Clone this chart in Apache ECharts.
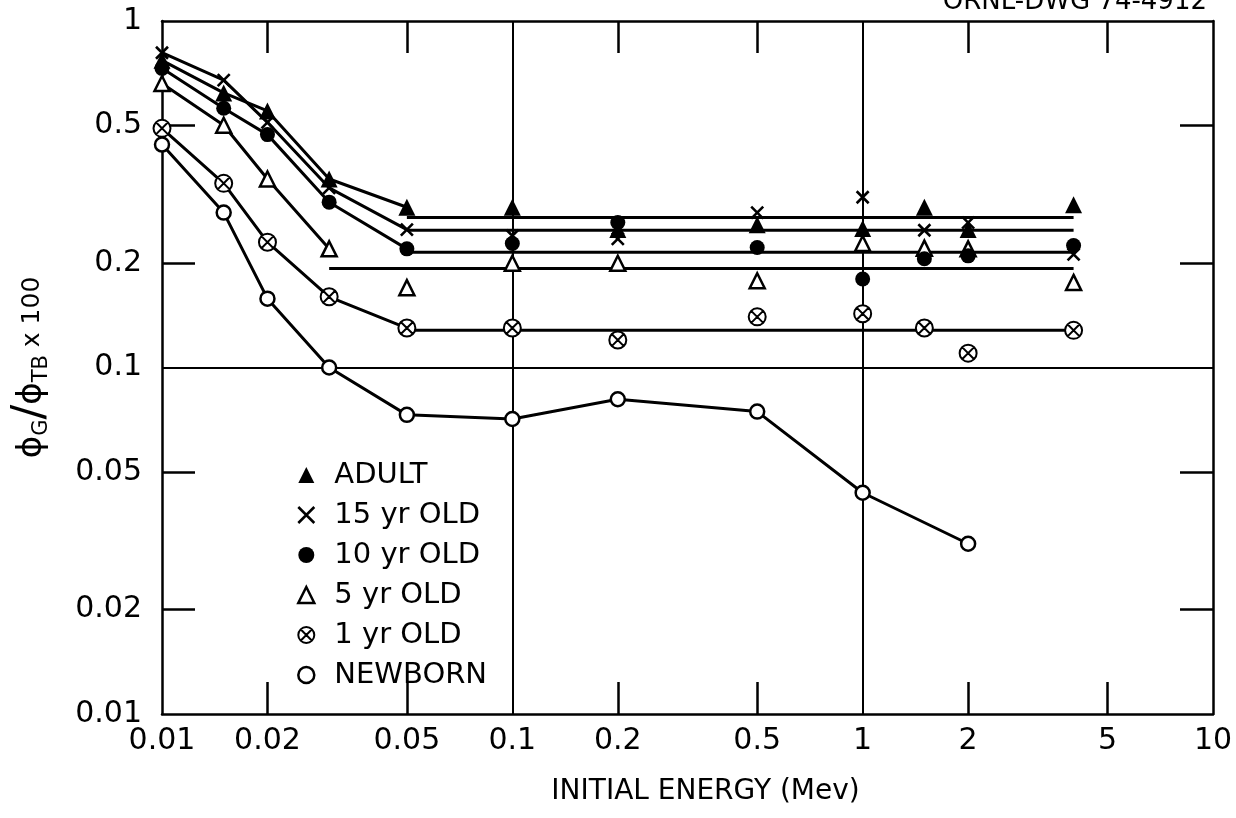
<!DOCTYPE html>
<html>
<head>
<meta charset="utf-8">
<script src="https://cdn.jsdelivr.net/npm/echarts@6/dist/echarts.min.js"></script>
<style>html,body{margin:0;padding:0;background:#fff}#c{width:1236px;height:818px}</style>
</head>
<body>
<div id="c"></div>
<script>
// ---- data (initial energy in MeV, ratio) ----
const energies = [0.01, 0.015, 0.02, 0.03, 0.05, 0.1, 0.2, 0.5, 1, 1.5, 2, 4];
const adult   = [0.77, 0.62, 0.55, 0.35, 0.29, 0.29, 0.25, 0.258, 0.252, 0.29, 0.25, 0.295];
const yr15    = [0.81, 0.675, 0.51, 0.33, 0.25, 0.24, 0.235, 0.28, 0.31, 0.249, 0.262, 0.212];
const yr10    = [0.73, 0.56, 0.47, 0.30, 0.22, 0.228, 0.262, 0.222, 0.18, 0.206, 0.21, 0.225];
const yr5     = [0.66, 0.50, 0.35, 0.22, 0.17, 0.20, 0.20, 0.178, 0.228, 0.221, 0.22, 0.176];
const yr1     = [0.49, 0.34, 0.23, 0.16, 0.13, 0.13, 0.12, 0.14, 0.143, 0.13, 0.11, 0.128];
const newborn = [0.44, 0.28, 0.158, 0.10, 0.073, 0.071, 0.081, 0.0746, 0.0435, null, 0.031, null];
// horizontal fitted levels (ADULT, 15 yr, 10 yr, 5 yr, 1 yr)
const fitLevel = [0.271, 0.249, 0.215, 0.193, 0.128];
const fitFrom  = [0.05, 0.05, 0.05, 0.03, 0.05];
const fitTo    = [4, 4, 4, 4, 4];
// last index joined by the low-energy curve
const curveLast = [4, 4, 4, 3, 4, 11];
const seriesNames = ['ADULT', '15 yr OLD', '10 yr OLD', '5 yr OLD', '1 yr OLD', 'NEWBORN'];
const xTickValues  = [0.02, 0.05, 0.2, 0.5, 2, 5];
const xLabelValues = [0.01, 0.02, 0.05, 0.1, 0.2, 0.5, 1, 2, 5, 10];
const yTickValues  = [0.02, 0.05, 0.2, 0.5];
const yLabelValues = [0.01, 0.02, 0.05, 0.1, 0.2, 0.5, 1];
const xGridValues = [0.1, 1];
const yGridValues = [0.1];
const xTitle = 'INITIAL ENERGY (Mev)';
const drawingNo = 'ORNL-DWG 74-4912';

// ---- styles ----
const FONT = 'DejaVu Sans';
const INK = '#000';
const CROSS = 'path://M0,0L10,10M10,0L0,10';
const CIRCX = 'path://M10,0A10,10,0,1,1,10,20A10,10,0,1,1,10,0ZM3.2,3.2L16.8,16.8M16.8,3.2L3.2,16.8';
const markers = [
  {symbol: 'triangle', size: 17, itemStyle: {color: INK, borderWidth: 0, opacity: 1}},
  {symbol: CROSS, size: 12, itemStyle: {color: INK, borderColor: INK, borderWidth: 2.6, opacity: 1}},
  {symbol: 'circle', size: 15, itemStyle: {color: INK, borderWidth: 0, opacity: 1}},
  {symbol: 'triangle', size: 15, itemStyle: {color: '#fff', borderColor: INK, borderWidth: 2.5, opacity: 1}},
  {symbol: CIRCX, size: 17, itemStyle: {color: '#fff', borderColor: INK, borderWidth: 2, opacity: 1}},
  {symbol: 'circle', size: 14, itemStyle: {color: '#fff', borderColor: INK, borderWidth: 2.5, opacity: 1}}
];
const allValues = [adult, yr15, yr10, yr5, yr1, newborn];

function pts(vals, lastIdx) {
  const out = [];
  for (let i = 0; i < energies.length && i <= lastIdx; i++) {
    if (vals[i] != null) out.push([energies[i], vals[i]]);
  }
  return out;
}
const fmt = v => String(+Number(v).toPrecision(2));

const series = [];
// curves
allValues.forEach((vals, k) => {
  series.push({
    type: 'line', name: seriesNames[k], data: pts(vals, curveLast[k]),
    symbol: 'none', showSymbol: false, silent: true, z: 2,
    lineStyle: {color: INK, width: 3}
  });
});
// fitted horizontal lines
fitLevel.forEach((lv, k) => {
  series.push({
    type: 'line', name: seriesNames[k],
    data: [[fitFrom[k], lv], [fitTo[k], lv]],
    symbol: 'none', showSymbol: false, silent: true, z: 2,
    lineStyle: {color: INK, width: 3}
  });
});
// markers (drawn last so ADULT is on top)
for (let k = allValues.length - 1; k >= 0; k--) {
  series.push({
    type: 'scatter', name: seriesNames[k], data: pts(allValues[k], 99),
    symbol: markers[k].symbol, symbolSize: markers[k].size,
    itemStyle: markers[k].itemStyle, z: 3, silent: true
  });
}

const legendData = seriesNames.map((n, k) => ({
  name: n,
  icon: markers[k].symbol,
  itemStyle: Object.assign({}, markers[k].itemStyle)
}));

const lineSt = {color: INK, width: 2.5};
const labelSt = {color: INK, fontSize: 30, fontFamily: FONT};

const option = {
  backgroundColor: '#fff',
  animation: false,
  title: {
    text: drawingNo, right: 24, top: -16,
    textStyle: {fontSize: 26, fontWeight: 'normal', fontFamily: FONT, color: INK}
  },
  grid: {left: 162, right: 23, top: 21, bottom: 104},
  legend: {
    orient: 'vertical', left: 292, top: 455,
    itemWidth: 16, itemHeight: 16, itemGap: 10,
    data: legendData,
    textStyle: {fontSize: 29, fontFamily: FONT, color: INK, lineHeight: 30, padding: [0, 0, 0, 15]},
    selectedMode: false
  },
  xAxis: [
    {
      type: 'log', logBase: 10, min: 0.01, max: 10, position: 'bottom',
      axisLine: {show: true, onZero: false, lineStyle: lineSt},
      axisTick: {show: true, inside: true, length: 32, customValues: xTickValues, lineStyle: lineSt},
      axisLabel: Object.assign({show: true, customValues: xLabelValues, margin: 12, formatter: fmt}, labelSt),
      splitLine: {show: false},
      name: xTitle, nameLocation: 'middle', nameGap: 64,
      nameTextStyle: {fontSize: 28, fontFamily: FONT, color: INK, lineHeight: 28, padding: [0, 0, 0, 36]}
    },
    {
      type: 'log', logBase: 10, min: 0.01, max: 10, position: 'top',
      axisLine: {show: true, onZero: false, lineStyle: lineSt},
      axisTick: {show: true, inside: true, length: 32, customValues: xTickValues, lineStyle: lineSt},
      axisLabel: {show: false},
      splitLine: {show: false}
    },
    {
      type: 'log', logBase: 10, min: 0.01, max: 10, position: 'bottom',
      axisLine: {show: false},
      axisTick: {show: false, customValues: xGridValues},
      axisLabel: {show: false},
      splitLine: {show: true, lineStyle: {color: INK, width: 2}}
    }
  ],
  yAxis: [
    {
      type: 'log', logBase: 10, min: 0.01, max: 1, position: 'left',
      axisLine: {show: true, onZero: false, lineStyle: lineSt},
      axisTick: {show: true, inside: true, length: 33, customValues: yTickValues, lineStyle: lineSt},
      axisLabel: Object.assign({show: true, customValues: yLabelValues, margin: 20, formatter: fmt}, labelSt),
      splitLine: {show: false},
      name: '{p|ϕ}{s|G}{sl|/}{p|ϕ}{s|TB}{m| x 100}',
      nameLocation: 'middle', nameRotate: 90, nameGap: 110,
      nameTextStyle: {
        color: INK, fontFamily: FONT, fontSize: 25,
        rich: {
          p: {fontSize: 34, fontFamily: FONT, color: INK, lineHeight: 40},
          s: {fontSize: 21, fontFamily: FONT, color: INK, lineHeight: 26, verticalAlign: 'bottom'},
          sl: {fontSize: 44, fontFamily: FONT, color: INK, lineHeight: 40},
          m: {fontSize: 25, fontFamily: FONT, color: INK, lineHeight: 40}
        }
      }
    },
    {
      type: 'log', logBase: 10, min: 0.01, max: 1, position: 'right',
      axisLine: {show: true, onZero: false, lineStyle: lineSt},
      axisTick: {show: true, inside: true, length: 33, customValues: yTickValues, lineStyle: lineSt},
      axisLabel: {show: false},
      splitLine: {show: false}
    },
    {
      type: 'log', logBase: 10, min: 0.01, max: 1, position: 'left',
      axisLine: {show: false},
      axisTick: {show: false, customValues: yGridValues},
      axisLabel: {show: false},
      splitLine: {show: true, lineStyle: {color: INK, width: 2}}
    }
  ],
  series: series
};

const chart = echarts.init(document.getElementById('c'));
chart.setOption(option);
</script>
</body>
</html>
